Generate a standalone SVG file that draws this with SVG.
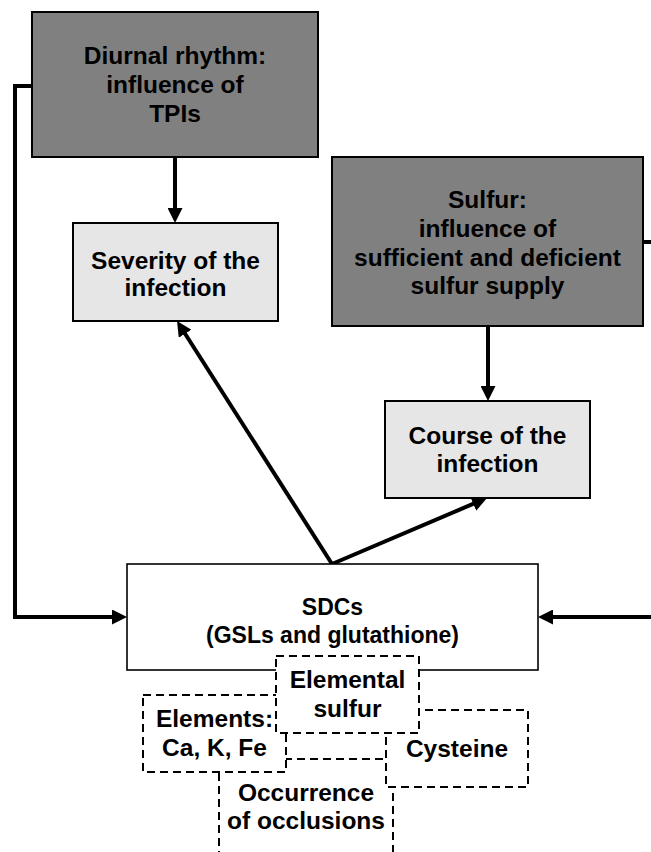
<svg xmlns="http://www.w3.org/2000/svg" width="651" height="852" viewBox="0 0 651 852">
  <style>
    text { font-family: "Liberation Sans", Arial, sans-serif; font-weight: bold; font-size: 24.5px; fill: #000; text-anchor: middle; }
    .dark { fill: #808080; stroke: #000; stroke-width: 2; }
    .light { fill: #e6e6e6; stroke: #000; stroke-width: 2; }
    .main { fill: #fff; stroke: #000; stroke-width: 1.6; }
    .dash { fill: #fff; stroke: #000; stroke-width: 2; stroke-dasharray: 8 5; }
    .conn { fill: none; stroke: #000; stroke-width: 4; marker-end: url(#arrow); }
  </style>
  <defs>
    <marker id="arrow" markerUnits="userSpaceOnUse" markerWidth="15" markerHeight="15" refX="8" refY="7.5" orient="auto">
      <path d="M0,0 L15,7.5 L0,15 z" fill="#000"/>
    </marker>
  </defs>
  <rect width="651" height="852" fill="#fff"/>

  <!-- connectors -->
  <g id="connectors">
    <path class="conn" d="M32,86 H15 V617 H120"/>
    <path class="conn" d="M643,242 H662 V617 H545"/>
    <line class="conn" x1="175" y1="157" x2="175" y2="216"/>
    <line class="conn" x1="488" y1="326" x2="488" y2="394"/>
    <line class="conn" x1="332" y1="564" x2="180.8" y2="327"/>
    <line class="conn" x1="332" y1="564" x2="480.6" y2="500.7"/>
  </g>

  <g id="diurnal">
    <rect class="dark" x="32" y="12" width="286" height="145"/>
    <text x="175" y="64">Diurnal rhythm:</text>
    <text x="175" y="93">influence of</text>
    <text x="175" y="122">TPIs</text>
  </g>

  <g id="severity">
    <rect class="light" x="73" y="223" width="205" height="98"/>
    <text x="175.5" y="269">Severity of the</text>
    <text x="175.5" y="296">infection</text>
  </g>

  <g id="sulfur">
    <rect class="dark" x="332" y="157" width="311" height="169"/>
    <text x="487.5" y="208">Sulfur:</text>
    <text x="487.5" y="237">influence of</text>
    <text x="487.5" y="265.5">sufficient and deficient</text>
    <text x="487.5" y="294">sulfur supply</text>
  </g>

  <g id="course">
    <rect class="light" x="385" y="401" width="205" height="97"/>
    <text x="487.5" y="444">Course of the</text>
    <text x="487.5" y="472">infection</text>
  </g>

  <g id="sdcs">
    <rect class="main" x="127" y="564" width="411" height="106"/>
    <text x="332.5" y="615" style="font-size:23px">SDCs</text>
    <text x="332.5" y="643" style="font-size:23px">(GSLs and glutathione)</text>
  </g>

  <g id="occlusions">
    <rect class="dash" x="219" y="759" width="174" height="110"/>
    <text x="306" y="801">Occurrence</text>
    <text x="306" y="829">of occlusions</text>
  </g>

  <g id="elements">
    <rect class="dash" x="143" y="695" width="143" height="77"/>
    <text x="214.5" y="727">Elements:</text>
    <text x="214.5" y="756">Ca, K, Fe</text>
  </g>

  <g id="cysteine">
    <rect class="dash" x="386" y="710" width="142" height="77"/>
    <text x="457" y="757">Cysteine</text>
  </g>

  <g id="elemental-sulfur">
    <rect class="dash" x="276" y="656" width="143" height="77"/>
    <text x="347.5" y="688">Elemental</text>
    <text x="347.5" y="717">sulfur</text>
  </g>
</svg>
